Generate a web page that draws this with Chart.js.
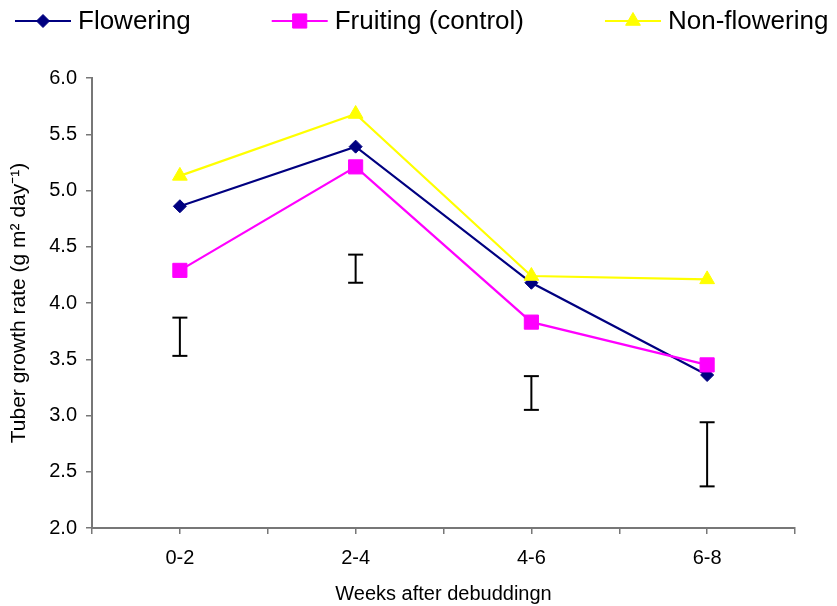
<!DOCTYPE html>
<html>
<head>
<meta charset="utf-8">
<script src="https://cdn.jsdelivr.net/npm/chart.js@4.4.1/dist/chart.umd.min.js"></script>
<style>
  html, body { margin: 0; padding: 0; background: #fff; }
  #wrap { width: 837px; height: 606px; }
</style>
</head>
<body>
<div id="wrap"><canvas id="growthChart" width="837" height="606"></canvas></div>
<script>
// ---------------- data ----------------
const weeks = ['0-2', '2-4', '4-6', '6-8'];
const flowering = [4.86, 5.39, 4.18, 3.36];
const fruiting = [4.29, 5.21, 3.83, 3.45];
const nonFlowering = [5.13, 5.68, 4.24, 4.21];
// standalone LSD bars under each period
const errLow = [3.53, 4.18, 3.05, 2.37];
const errHigh = [3.87, 4.43, 3.35, 2.94];
const yMin = 2.0, yMax = 6.0, yStep = 0.5;

const FONT = "'Liberation Sans', Arial, sans-serif";
Chart.defaults.font.family = FONT;
Chart.defaults.color = '#000';

function toPoints(values) {
    return values.map((v, i) => ({ x: i, y: v }));
}

// error bars as one dataset, broken by null points
function errorPoints() {
    const pts = [];
    errLow.forEach((lo, i) => {
        pts.push({ x: i, y: lo }, { x: i, y: errHigh[i] }, { x: i + 0.5, y: null });
    });
    return pts;
}

// ---------------- legend drawn as line + marker ----------------
const lineLegend = {
    id: 'lineLegend',
    afterDraw(chart) {
        const ctx = chart.ctx;
        const items = chart.data.datasets.filter(d => d.inLegend);
        let x = 15;
        const y = 21;
        ctx.save();
        ctx.font = '26px ' + FONT;
        ctx.textBaseline = 'middle';
        ctx.textAlign = 'left';
        items.forEach(ds => {
            ctx.strokeStyle = ds.borderColor;
            ctx.lineWidth = ds.borderWidth;
            ctx.beginPath();
            ctx.moveTo(x, y);
            ctx.lineTo(x + 56, y);
            ctx.stroke();
            ctx.fillStyle = ds.pointBackgroundColor;
            ctx.strokeStyle = ds.pointBorderColor;
            ctx.lineWidth = 1;
            Chart.helpers.drawPoint(ctx, { pointStyle: ds.pointStyle, radius: ds.pointRadius, borderWidth: 1 }, x + 28, y);
            ctx.fillStyle = '#000';
            ctx.fillText(ds.label, x + 63, y + 1);
            x += 63 + ctx.measureText(ds.label).width + 81;
        });
        ctx.restore();
    }
};

const whiteBg = {
    id: 'whiteBg',
    beforeDraw(chart) {
        const ctx = chart.ctx;
        ctx.save();
        ctx.fillStyle = '#fff';
        ctx.fillRect(0, 0, chart.width, chart.height);
        ctx.restore();
    }
};

function seriesDataset(label, values, color, style, radius, order) {
    return {
        label: label,
        data: toPoints(values),
        borderColor: color,
        backgroundColor: color,
        pointBackgroundColor: color,
        pointBorderColor: color,
        pointStyle: style,
        pointRadius: radius,
        pointHoverRadius: radius,
        pointBorderWidth: 1,
        borderWidth: 2.2,
        tension: 0,
        order: order,
        inLegend: true
    };
}

new Chart(document.getElementById('growthChart'), {
    type: 'line',
    data: {
        datasets: [
            seriesDataset('Flowering', flowering, '#000080', 'rectRot', 6.5, 3),
            seriesDataset('Fruiting (control)', fruiting, '#FF00FF', 'rect', 10, 2),
            seriesDataset('Non-flowering', nonFlowering, '#FFFF00', 'triangle', 8.5, 1),
            {
                label: 'LSD',
                data: errorPoints(),
                borderColor: '#000',
                pointBorderColor: '#000',
                pointStyle: 'line',
                pointRadius: 7.5,
                pointBorderWidth: 2,
                borderWidth: 2,
                spanGaps: false,
                order: 4,
                inLegend: false
            }
        ]
    },
    options: {
        responsive: false,
        animation: false,
        events: [],
        layout: { padding: { top: 78, right: 42, bottom: 0, left: 0 } },
        plugins: {
            legend: { display: false },
            tooltip: { enabled: false }
        },
        scales: {
            x: {
                type: 'linear',
                min: -0.5,
                max: 3.5,
                grid: { drawOnChartArea: false, drawTicks: true, tickLength: 6, color: '#777', lineWidth: 1.5 },
                border: { color: '#777', width: 2 },
                ticks: {
                    stepSize: 0.5,
                    autoSkip: false,
                    maxRotation: 0,
                    padding: 12,
                    font: { size: 20 },
                    callback: v => Number.isInteger(v) ? weeks[v] : ''
                },
                title: {
                    display: true,
                    text: 'Weeks after debuddingn',
                    font: { size: 20 },
                    padding: { top: 0, bottom: 0 }
                }
            },
            y: {
                min: yMin,
                max: yMax,
                grid: { drawOnChartArea: false, drawTicks: true, tickLength: 6, color: '#777', lineWidth: 1.5 },
                border: { color: '#777', width: 2 },
                ticks: {
                    stepSize: yStep,
                    padding: 9,
                    font: { size: 20 },
                    callback: v => v.toFixed(1)
                },
                title: {
                    display: true,
                    text: 'Tuber growth rate (g m² day⁻¹)',
                    font: { size: 21 },
                    padding: { top: 7, bottom: 8 }
                }
            }
        }
    },
    plugins: [whiteBg, lineLegend]
});
</script>
</body>
</html>
